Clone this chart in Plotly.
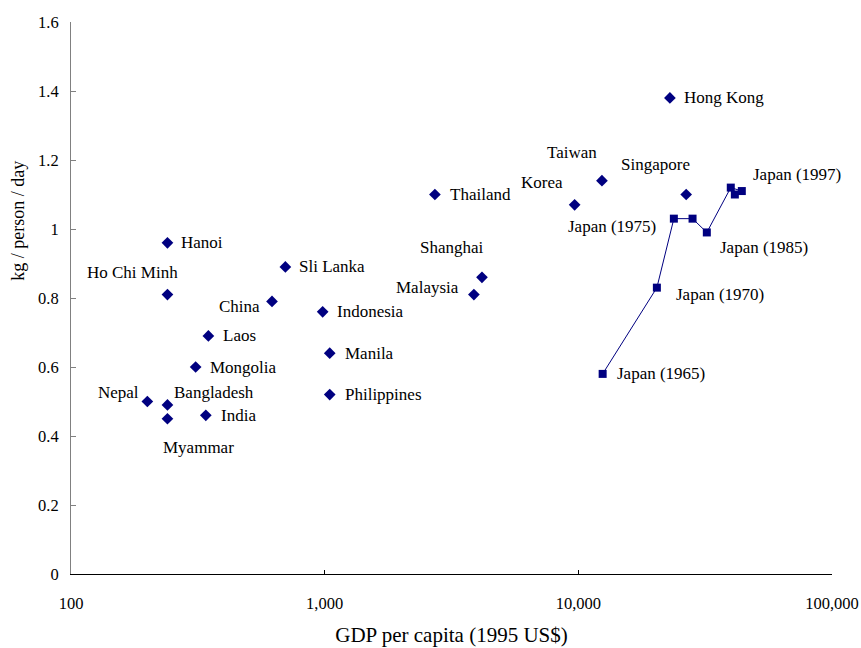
import math
import plotly.graph_objects as go

# Municipal solid waste generation vs. GDP per capita (Asian cities / countries)
places = ["Hong Kong", "Singapore", "Taiwan", "Korea", "Thailand", "Shanghai",
          "Malaysia", "Indonesia", "Manila", "Philippines", "Sli Lanka", "China",
          "Hanoi", "Ho Chi Minh", "Laos", "Mongolia", "Nepal", "Bangladesh",
          "India", "Myammar"]
place_gdp = [22960, 26620, 12390, 9670, 2720, 4170, 3875, 982, 1047, 1047,
             700, 620, 240, 240, 348, 310, 200, 240, 340, 240]
place_waste = [1.38, 1.10, 1.14, 1.07, 1.10, 0.86, 0.81, 0.76, 0.64, 0.52,
               0.89, 0.79, 0.96, 0.81, 0.69, 0.60, 0.50, 0.49, 0.46, 0.45]

# Japan time series
japan_years = [1965, 1970, 1975, 1980, 1985, 1990, 1995, 1997]
japan_gdp = [12470, 20400, 23800, 28200, 32100, 39900, 44100, 41400]
japan_waste = [0.58, 0.83, 1.03, 1.03, 0.99, 1.12, 1.11, 1.10]
japan_labelled = [1965, 1970, 1975, 1985, 1997]

x_tickvals = [100, 1000, 10000, 100000]
x_ticktext = ["100", "1,000", "10,000", "100,000"]

NAVY = "#000080"
FONT = "Liberation Serif, Times New Roman, serif"

# label placement: (xanchor, x shift px, y shift px)
label_place = {
    "Hong Kong": ("left", 12, 0), "Singapore": ("right", 6, 30),
    "Taiwan": ("right", -3, 28), "Korea": ("right", -10, 22),
    "Thailand": ("left", 13, 0), "Shanghai": ("right", 4, 30),
    "Malaysia": ("right", -13, 7), "Indonesia": ("left", 12, 0),
    "Manila": ("left", 13, 0), "Philippines": ("left", 13, 0),
    "Sli Lanka": ("left", 12, 0), "China": ("right", -10, -5),
    "Hanoi": ("left", 12, 0), "Ho Chi Minh": ("center", -35, 22),
    "Laos": ("left", 13, 0), "Mongolia": ("left", 12, 0),
    "Nepal": ("right", -6, 9), "Bangladesh": ("left", 5, 12),
    "India": ("left", 13, 0), "Myammar": ("left", -6, -29),
}
japan_place = {
    1965: ("left", 12, 0), 1970: ("left", 17, -7), 1975: ("right", -16, -8),
    1985: ("left", 11, -15), 1997: ("left", 16, 20),
}

fig = go.Figure()
fig.add_trace(go.Scatter(
    x=place_gdp, y=place_waste, mode="markers",
    marker=dict(symbol="diamond", size=9, color=NAVY),
    hovertext=places, showlegend=False,
))
fig.add_trace(go.Scatter(
    x=japan_gdp, y=japan_waste, mode="lines+markers",
    line=dict(color=NAVY, width=1),
    marker=dict(symbol="square", size=8, color=NAVY),
    showlegend=False,
))


def label(text, gx, wy, place):
    anchor, dx, dy = place
    # annotations on a log axis take log10 positions
    return dict(x=math.log10(gx), y=wy, xref="x", yref="y", text=text,
                showarrow=False, xanchor=anchor, yanchor="middle",
                xshift=dx, yshift=dy)


annotations = [label(n, g, w, label_place[n])
               for n, g, w in zip(places, place_gdp, place_waste)]
annotations += [label(f"Japan ({yr})", g, w, japan_place[yr])
                for yr, g, w in zip(japan_years, japan_gdp, japan_waste)
                if yr in japan_labelled]

# vertical axis title, drawn as a rotated annotation
annotations.append(dict(
    text="kg / person / day", textangle=-90, showarrow=False,
    xref="paper", yref="paper", x=-0.0696, y=0.64,
    xanchor="center", yanchor="middle", font=dict(size=18),
))

fig.update_layout(
    width=861, height=648,
    margin=dict(l=71, r=29, t=22, b=73.5, pad=0),
    paper_bgcolor="white", plot_bgcolor="white",
    font=dict(family=FONT, size=17, color="black"),
    annotations=annotations,
    xaxis=dict(
        type="log", range=[2, 5], automargin=False,
        tickvals=x_tickvals, ticktext=x_ticktext,
        ticks="inside", ticklen=4, tickcolor="black", tickwidth=1,
        showline=True, linecolor="black", linewidth=1,
        showgrid=False, zeroline=False,
        ticklabelstandoff=14,
        tickfont=dict(size=16.5),
        title=dict(text="GDP per capita (1995 US$)", font=dict(size=21),
                   standoff=15),
    ),
    yaxis=dict(
        range=[0, 1.6], dtick=0.2, tick0=0, automargin=False,
        ticks="inside", ticklen=5, tickcolor="#808080", tickwidth=1,
        showline=True, linecolor="#808080", linewidth=1,
        showgrid=False, zeroline=False,
        ticklabelstandoff=8,
        tickfont=dict(size=16.5),
    ),
)

fig.write_html("out.html")
